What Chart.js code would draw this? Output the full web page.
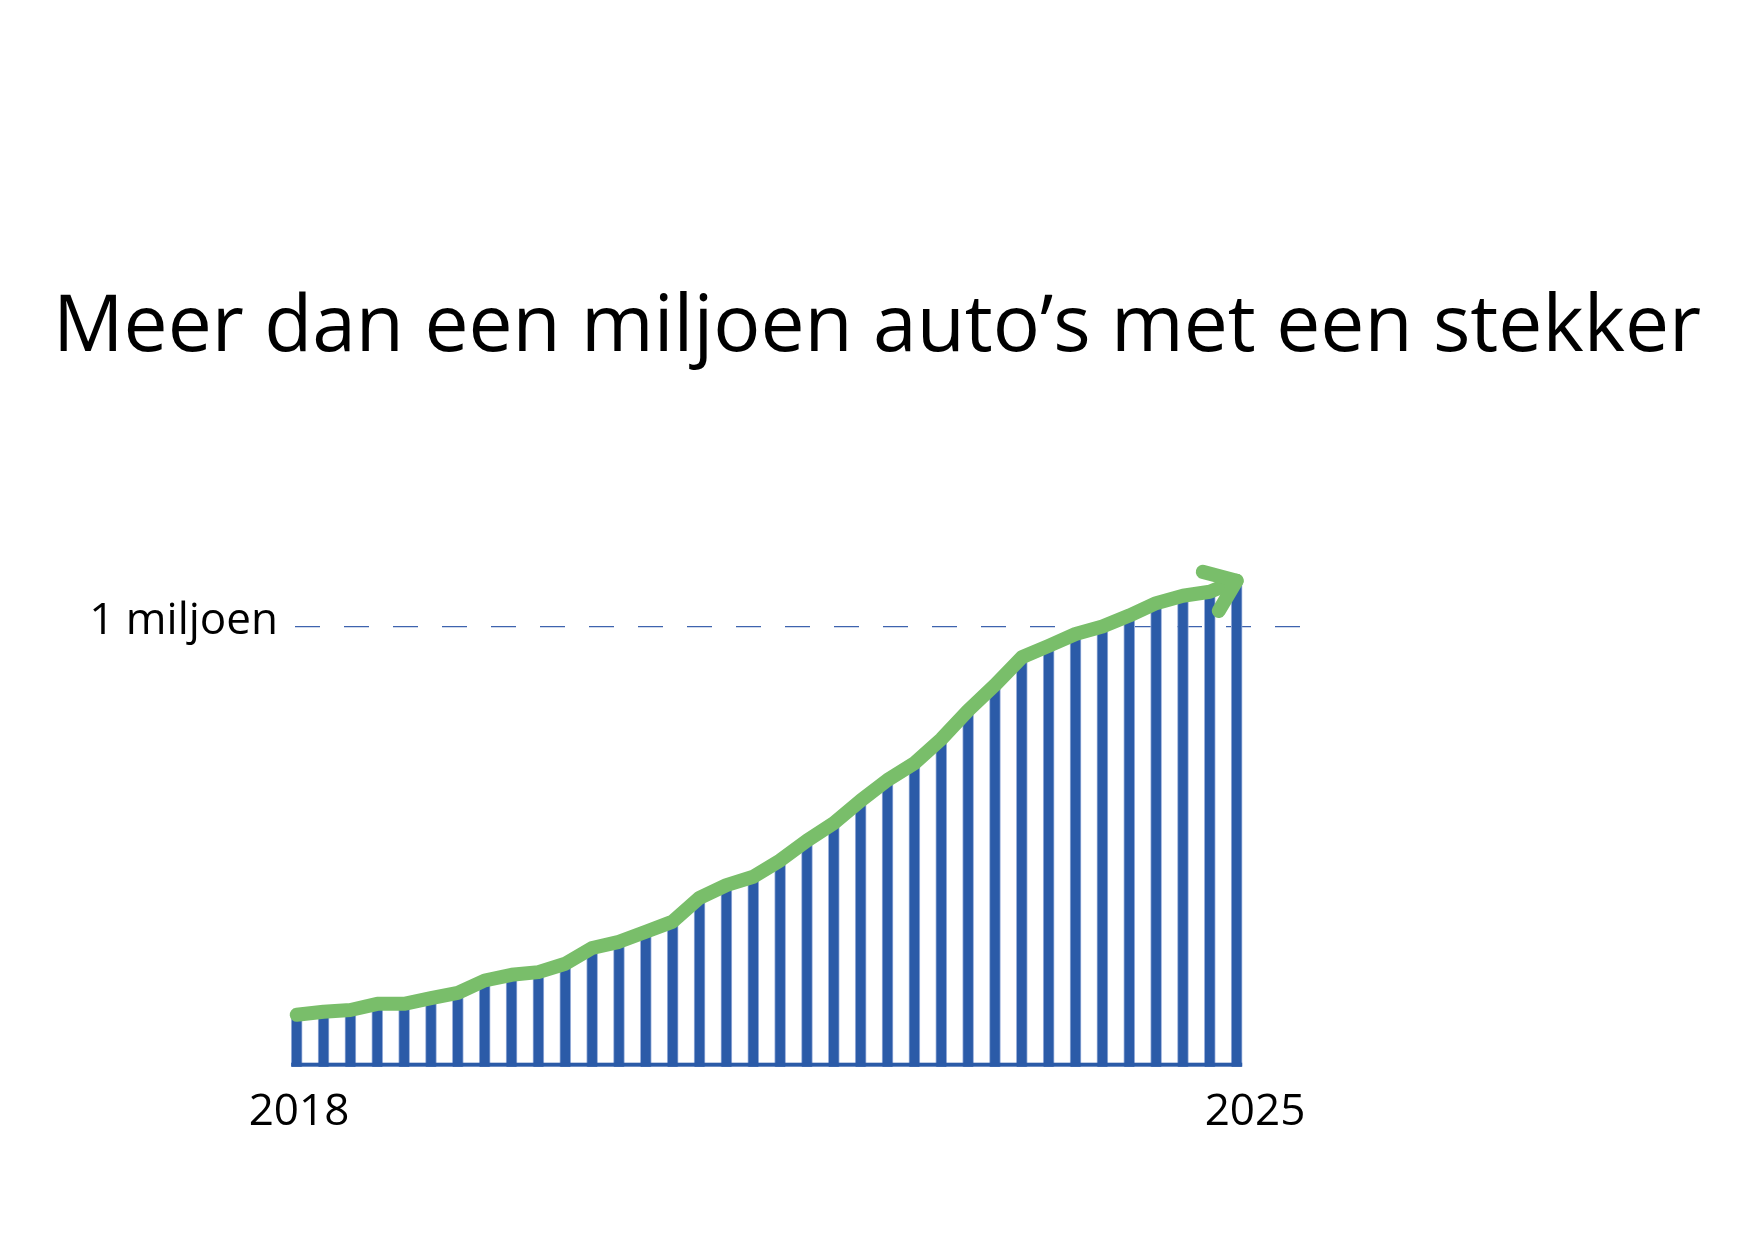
<!DOCTYPE html>
<html>
<head>
<meta charset="utf-8">
<script src="https://cdn.jsdelivr.net/npm/chart.js@4/dist/chart.umd.min.js"></script>
<style>
  html, body { margin: 0; padding: 0; background: #ffffff; }
  #wrap { width: 1754px; height: 1240px; }
</style>
</head>
<body>
<div id="wrap"><canvas id="c" width="1754" height="1240"></canvas></div>
<script>
// ---- data ----
const titleText = "Meer dan een miljoen auto\u2019s met een stekker";
const periods = Array.from({length: 36}, (_, i) => i + 1);   // bar index (periods)
const plugInCars = [118,125,129,143,143,156,168,196,209,215,234,270,284,307,330,384,413,432,
                    469,514,554,605,652,690,745,810,868,931,957,984,1001,1026,1054,1071,1080,1105]; // thousands
const yTickValues = [1000];
const yTickLabels = ["1 miljoen"];
const xTickValues = [2018, 2025];
const xTickLabels = ["2018", "2025"];

const BLUE = "#2B5BA8";
const GREEN = "#79BE6A";
const FONT = "'Open Sans', 'Noto Sans', sans-serif";

const pts = periods.map((p, i) => ({x: p, y: plugInCars[i]}));

const decor = {
  id: 'decor',
  afterDatasetsDraw(chart) {
    const ctx = chart.ctx;
    const bars = chart.getDatasetMeta(0).data;
    const yS = chart.scales.y;
    const y0 = yS.getPixelForValue(0);
    const first = bars[0], last = bars[bars.length - 1];
    // base line under the bars
    ctx.save();
    ctx.fillStyle = BLUE;
    ctx.fillRect(first.x - first.width / 2, y0 - 4, (last.x + last.width / 2) - (first.x - first.width / 2), 4);
    ctx.restore();
    // arrow head at the end of the green line
    const line = chart.getDatasetMeta(1).data;
    const a = line[line.length - 2], b = line[line.length - 1];
    const ang = Math.atan2(b.y - a.y, b.x - a.x);
    const L = 35, spread = 37 * Math.PI / 180;
    ctx.save();
    ctx.strokeStyle = GREEN;
    ctx.lineWidth = 14;
    ctx.lineCap = 'round';
    ctx.lineJoin = 'round';
    ctx.beginPath();
    ctx.moveTo(b.x + L * Math.cos(ang + Math.PI - spread), b.y + L * Math.sin(ang + Math.PI - spread));
    ctx.lineTo(b.x, b.y);
    ctx.lineTo(b.x + L * Math.cos(ang + Math.PI + spread), b.y + L * Math.sin(ang + Math.PI + spread));
    ctx.stroke();
    ctx.restore();
  }
};

new Chart(document.getElementById('c'), {
  data: {
    datasets: [
      {
        type: 'bar',
        data: pts,
        xAxisID: 'x', yAxisID: 'y',
        backgroundColor: BLUE,
        borderColor: '#9DB2DC',
        borderWidth: {left: 1, right: 1, top: 0, bottom: 0},
        borderSkipped: false,
        barThickness: 11,
        order: 2,
        clip: false
      },
      {
        type: 'line',
        data: pts,
        xAxisID: 'x', yAxisID: 'y',
        borderColor: GREEN,
        borderWidth: 14,
        borderCapStyle: 'round',
        borderJoinStyle: 'round',
        pointRadius: 0,
        tension: 0,
        fill: false,
        order: 1,
        clip: false
      }
    ]
  },
  options: {
    responsive: false,
    animation: false,
    devicePixelRatio: 1,
    layout: { padding: 0 },
    plugins: {
      legend: { display: false },
      tooltip: { enabled: false },
      title: {
        display: true,
        text: titleText,
        color: '#000000',
        font: { family: FONT, size: 78.5, weight: 'normal' },
        padding: { top: 281.7, bottom: 185.1 }
      }
    },
    scales: {
      x: {
        type: 'linear',
        display: false,
        offset: false,
        min: 0.9367,
        max: 38.358
      },
      xYear: {
        type: 'linear',
        position: 'bottom',
        offset: false,
        min: 2017.9707,
        max: 2025.3295,
        grid: { display: false, drawTicks: false },
        border: { display: false },
        afterBuildTicks: s => { s.ticks = xTickValues.map(v => ({value: v})); },
        afterFit: s => { s.height = 173.3; },
        ticks: {
          autoSkip: false,
          maxRotation: 0,
          padding: 19,
          color: '#000000',
          font: { family: FONT, size: 44 },
          callback: (v) => xTickLabels[xTickValues.indexOf(v)]
        }
      },
      y: {
        type: 'linear',
        position: 'left',
        min: 0,
        max: 1150,
        afterBuildTicks: s => { s.ticks = yTickValues.map(v => ({value: v})); },
        afterFit: s => { s.width = 295; },
        border: { display: false, dash: [25, 24] },
        grid: { color: '#3E63AE', lineWidth: 1.3, drawTicks: false },
        ticks: {
          padding: 17,
          labelOffset: -5,
          color: '#000000',
          font: { family: FONT, size: 44 },
          callback: (v) => yTickLabels[yTickValues.indexOf(v)]
        }
      },
      yR: {
        type: 'linear',
        position: 'right',
        display: true,
        grid: { display: false, drawTicks: false },
        border: { display: false },
        ticks: { display: false },
        afterFit: s => { s.width = 454; }
      }
    }
  },
  plugins: [decor]
});
</script>
</body>
</html>
